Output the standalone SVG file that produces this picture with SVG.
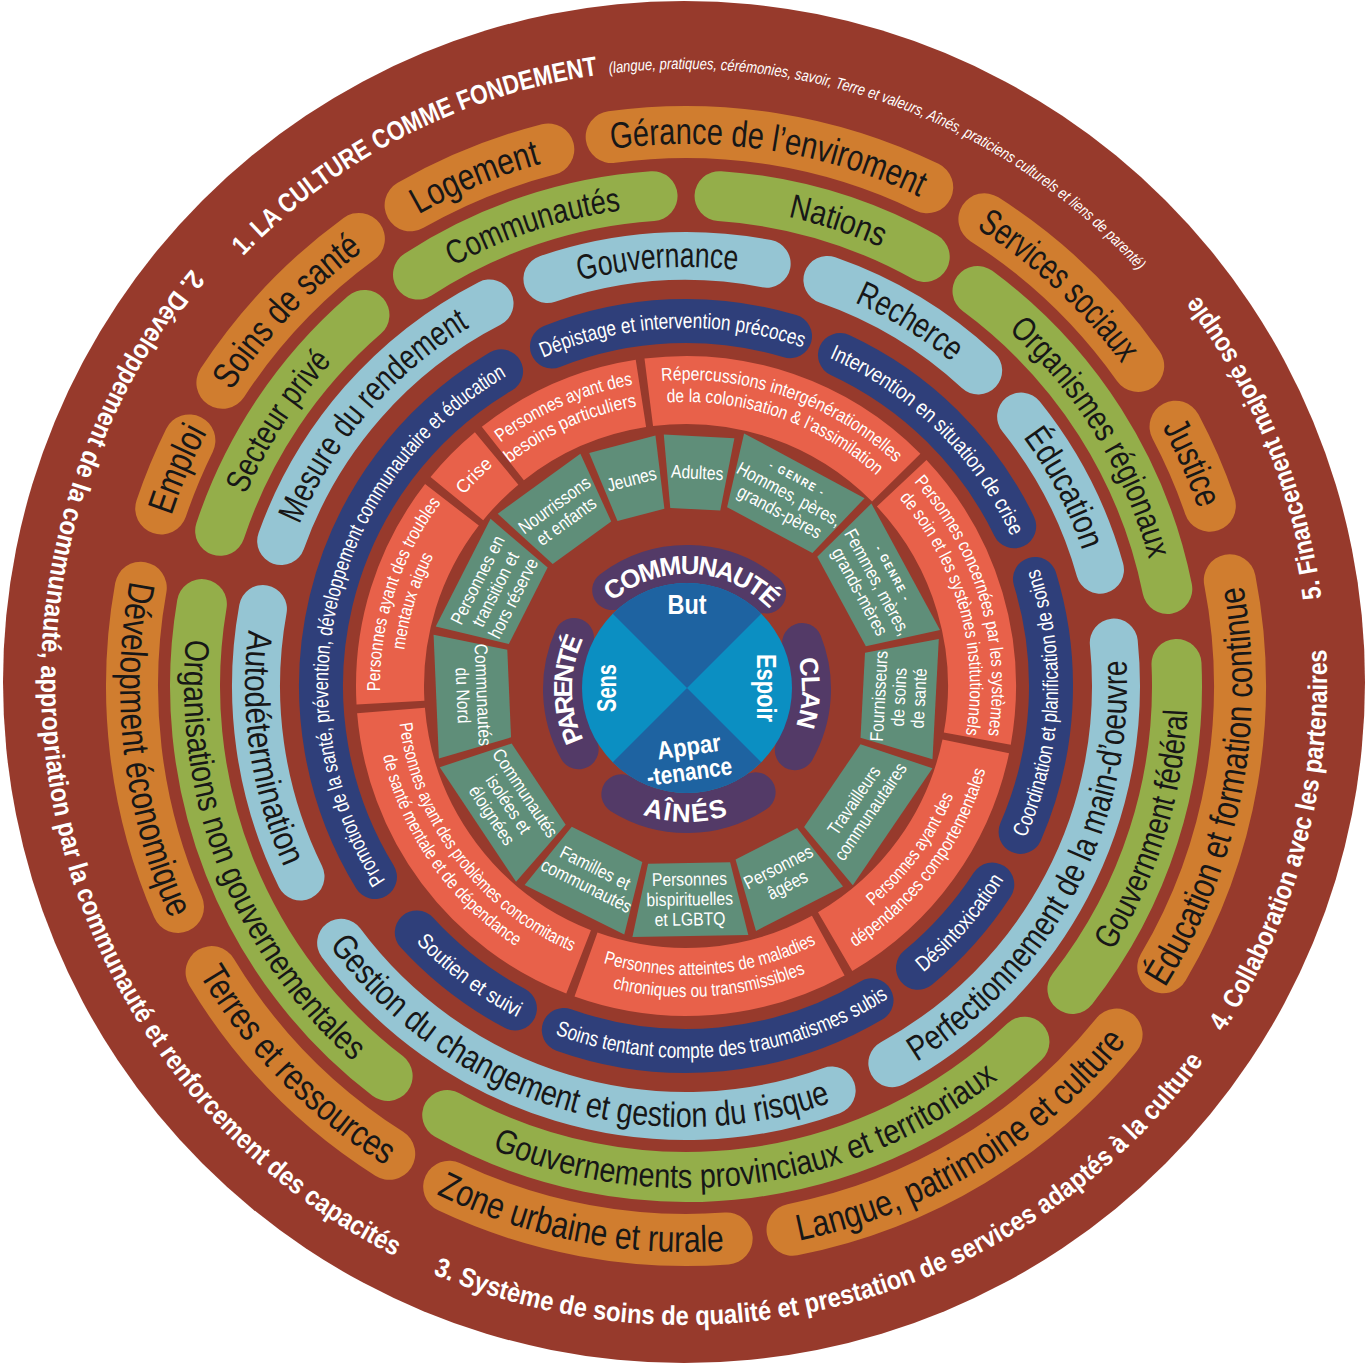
<svg xmlns="http://www.w3.org/2000/svg" xmlns:xlink="http://www.w3.org/1999/xlink" width="1368" height="1364" viewBox="0 0 1368 1364">
<defs>
<style>
text{font-family:"Liberation Sans Narrow","Liberation Sans",Arial,sans-serif}
.m{text-anchor:middle}.s{text-anchor:start}
.k{fill:#171717}.w{fill:#fff}.b{font-weight:bold}.i{font-style:italic}
.f34{font-size:37px}.f31{font-size:34px}.f32{font-size:35px}.f20{font-size:21.5px}.f17{font-size:18.5px}.f16{font-size:18.5px}.f26{font-size:26px}.f25{font-size:27px}.f15{font-size:16px}
.po{fill:none;stroke:#d07d2f;stroke-width:52;stroke-linecap:round}
.pg{fill:none;stroke:#94ae4a;stroke-width:50;stroke-linecap:round}
.pb{fill:none;stroke:#95c5d3;stroke-width:48;stroke-linecap:round}
.pn{fill:none;stroke:#2f3f7a;stroke-width:44;stroke-linecap:round}
.pc{fill:none;stroke:#e8614a;stroke-width:68}
.pp{fill:none;stroke:#533a67;stroke-width:40;stroke-linecap:round}
.sg{fill:#5f8e79}
.gl{font-size:11.5px;letter-spacing:2px;font-weight:bold}
</style>
<path id="cw543" d="M144,686 A542,542 0 1 1 1228,686 A542,542 0 1 1 144,686"/>
<path id="ccw565" d="M120,686 A566,566 0 1 0 1252,686 A566,566 0 1 0 120,686"/>
<path id="cw481" d="M206,686 A480,480 0 1 1 1166,686 A480,480 0 1 1 206,686"/>
<path id="ccw501" d="M184,686 A502,502 0 1 0 1188,686 A502,502 0 1 0 184,686"/>
<path id="cw420" d="M267,686 A419,419 0 1 1 1105,686 A419,419 0 1 1 267,686"/>
<path id="ccw440" d="M245,686 A441,441 0 1 0 1127,686 A441,441 0 1 0 245,686"/>
<path id="cw358" d="M328,686 A358,358 0 1 1 1044,686 A358,358 0 1 1 328,686"/>
<path id="ccw371" d="M314,686 A372,372 0 1 0 1058,686 A372,372 0 1 0 314,686"/>
<path id="cw306" d="M380,686 A306,306 0 1 1 992,686 A306,306 0 1 1 380,686"/>
<path id="cw284" d="M402,686 A284,284 0 1 1 970,686 A284,284 0 1 1 402,686"/>
<path id="cw293" d="M393,686 A293,293 0 1 1 979,686 A293,293 0 1 1 393,686"/>
<path id="ccw288" d="M397,686 A289,289 0 1 0 975,686 A289,289 0 1 0 397,686"/>
<path id="ccw310" d="M375,686 A311,311 0 1 0 997,686 A311,311 0 1 0 375,686"/>
<path id="cw115" d="M572,689 A115,115 0 1 1 802,689 A115,115 0 1 1 572,689"/>
<path id="ccw133" d="M554,689 A133,133 0 1 0 820,689 A133,133 0 1 0 554,689"/>
<path id="cw613" d="M71,682 A613,613 0 1 1 1297,682 A613,613 0 1 1 71,682"/>
<path id="ccw643" d="M41,682 A643,643 0 1 0 1327,682 A643,643 0 1 0 41,682"/>
</defs>

<circle id="background" cx="684" cy="682" r="681" fill="#973a2c"/>

<g id="outer-titles" class="w b">
<text class="s f25" transform="rotate(224 684 682)"><textPath href="#cw613" xlink:href="#cw613" startOffset="50%" textLength="406" lengthAdjust="spacingAndGlyphs">1. LA CULTURE COMME FONDEMENT</textPath></text>
<text class="s f15 i" transform="rotate(263 684 682)" style="font-weight:normal"><textPath href="#cw613" xlink:href="#cw613" startOffset="50%" textLength="587" lengthAdjust="spacingAndGlyphs">(langue, pratiques, cérémonies, savoir, Terre et valeurs, Aînés, praticiens culturels et liens de parenté)</textPath></text>
<text class="s f25" transform="rotate(220 684 682)"><textPath href="#ccw643" xlink:href="#ccw643" startOffset="50%" textLength="1159" lengthAdjust="spacingAndGlyphs">2. Développement de la communauté, appropriation par la communauté et renforcement des capacités</textPath></text>
<text class="s f25" transform="rotate(113 684 682)"><textPath href="#ccw643" xlink:href="#ccw643" startOffset="50%" textLength="863" lengthAdjust="spacingAndGlyphs">3. Système de soins de qualité et prestation de services adaptés à la culture</textPath></text>
<text class="s f25" transform="rotate(33 684 682)"><textPath href="#ccw643" xlink:href="#ccw643" startOffset="50%" textLength="403" lengthAdjust="spacingAndGlyphs">4. Collaboration avec les partenaires</textPath></text>
<text class="s f25" transform="rotate(352.5 684 682)"><textPath href="#ccw643" xlink:href="#ccw643" startOffset="50%" textLength="331" lengthAdjust="spacingAndGlyphs">5. Financement majoré souple</textPath></text>
</g>

<g id="ring-orange">
<g id="o-emploi"><circle class="po" cx="686" cy="686" r="554" stroke-dasharray="73.7 4000" transform="rotate(198.69 686 686)"/><text class="k f34 m" transform="rotate(203.1 686 686)"><textPath href="#cw543" xlink:href="#cw543" startOffset="50%" textLength="91" lengthAdjust="spacingAndGlyphs">Emploi</textPath></text></g>
<g id="o-soins-sante"><circle class="po" cx="686" cy="686" r="554" stroke-dasharray="199.4 4000" transform="rotate(213.19 686 686)"/><text class="k f34 m" transform="rotate(223.2 686 686)"><textPath href="#cw543" xlink:href="#cw543" startOffset="50%" textLength="193" lengthAdjust="spacingAndGlyphs">Soins de santé</textPath></text></g>
<g id="o-logement"><circle class="po" cx="686" cy="686" r="554" stroke-dasharray="149.1 4000" transform="rotate(240.19 686 686)"/><text class="k f34 m" transform="rotate(247.45 686 686)"><textPath href="#cw543" xlink:href="#cw543" startOffset="50%" textLength="133" lengthAdjust="spacingAndGlyphs">Logement</textPath></text></g>
<g id="o-gerance"><circle class="po" cx="686" cy="686" r="554" stroke-dasharray="324.1 4000" transform="rotate(262.29 686 686)"/><text class="k f34 m" transform="rotate(278.8 686 686)"><textPath href="#cw543" xlink:href="#cw543" startOffset="50%" textLength="316" lengthAdjust="spacingAndGlyphs">Gérance de l’enviroment</textPath></text></g>
<g id="o-services-sociaux"><circle class="po" cx="686" cy="686" r="554" stroke-dasharray="213.9 4000" transform="rotate(302.59 686 686)"/><text class="k f34 m" transform="rotate(312.95 686 686)"><textPath href="#cw543" xlink:href="#cw543" startOffset="50%" textLength="200" lengthAdjust="spacingAndGlyphs">Services sociaux</textPath></text></g>
<g id="o-justice"><circle class="po" cx="686" cy="686" r="554" stroke-dasharray="86.3 4000" transform="rotate(332.09 686 686)"/><text class="k f34 m" transform="rotate(336.2 686 686)"><textPath href="#cw543" xlink:href="#cw543" startOffset="50%" textLength="90" lengthAdjust="spacingAndGlyphs">Justice</textPath></text></g>
<g id="o-education-formation"><circle class="po" cx="686" cy="686" r="554" stroke-dasharray="401.5 4000" transform="rotate(348.99 686 686)"/><text class="k f34 m" transform="rotate(11 686 686)"><textPath href="#ccw565" xlink:href="#ccw565" startOffset="50%" textLength="419" lengthAdjust="spacingAndGlyphs">Éducation et formation continue</textPath></text></g>
<g id="o-langue"><circle class="po" cx="686" cy="686" r="554" stroke-dasharray="386 4000" transform="rotate(38.99 686 686)"/><text class="k f34 m" transform="rotate(58.7 686 686)"><textPath href="#ccw565" xlink:href="#ccw565" startOffset="50%" textLength="391" lengthAdjust="spacingAndGlyphs">Langue, patrimoine et culture</textPath></text></g>
<g id="o-zone"><circle class="po" cx="686" cy="686" r="554" stroke-dasharray="285.4 4000" transform="rotate(85.79 686 686)"/><text class="k f34 m" transform="rotate(101.15 686 686)"><textPath href="#ccw565" xlink:href="#ccw565" startOffset="50%" textLength="297" lengthAdjust="spacingAndGlyphs">Zone urbaine et rurale</textPath></text></g>
<g id="o-terres"><circle class="po" cx="686" cy="686" r="554" stroke-dasharray="256.4 4000" transform="rotate(122.39 686 686)"/><text class="k f34 m" transform="rotate(135.7 686 686)"><textPath href="#ccw565" xlink:href="#ccw565" startOffset="50%" textLength="269" lengthAdjust="spacingAndGlyphs">Terres et ressources</textPath></text></g>
<g id="o-developpement"><circle class="po" cx="686" cy="686" r="554" stroke-dasharray="326.1 4000" transform="rotate(156.49 686 686)"/><text class="k f34 m" transform="rotate(173.2 686 686)"><textPath href="#ccw565" xlink:href="#ccw565" startOffset="50%" textLength="346" lengthAdjust="spacingAndGlyphs">Dévelopment économique</textPath></text></g>
</g>

<g id="ring-green">
<g id="g-secteur"><circle class="pg" cx="686" cy="686" r="491" stroke-dasharray="262.8 4000" transform="rotate(198.42 686 686)"/><text class="k f31 m" transform="rotate(213 686 686)"><textPath href="#cw481" xlink:href="#cw481" startOffset="50%" textLength="159" lengthAdjust="spacingAndGlyphs">Secteur privé</textPath></text></g>
<g id="g-communautes"><circle class="pg" cx="686" cy="686" r="491" stroke-dasharray="250 4000" transform="rotate(236.92 686 686)"/><text class="k f31 m" transform="rotate(251.6 686 686)"><textPath href="#cw481" xlink:href="#cw481" startOffset="50%" textLength="178" lengthAdjust="spacingAndGlyphs">Communautés</textPath></text></g>
<g id="g-nations"><circle class="pg" cx="686" cy="686" r="491" stroke-dasharray="215.7 4000" transform="rotate(273.92 686 686)"/><text class="k f31 m" transform="rotate(288.1 686 686)"><textPath href="#cw481" xlink:href="#cw481" startOffset="50%" textLength="98" lengthAdjust="spacingAndGlyphs">Nations</textPath></text></g>
<g id="g-organismes"><circle class="pg" cx="686" cy="686" r="491" stroke-dasharray="361.4 4000" transform="rotate(306.42 686 686)"/><text class="k f31 m" transform="rotate(328.45 686 686)"><textPath href="#cw481" xlink:href="#cw481" startOffset="50%" textLength="272" lengthAdjust="spacingAndGlyphs">Organismes régionaux</textPath></text></g>
<g id="g-federal"><circle class="pg" cx="686" cy="686" r="491" stroke-dasharray="348.5 4000" transform="rotate(357.42 686 686)"/><text class="k f31 m" transform="rotate(17.3 686 686)"><textPath href="#ccw501" xlink:href="#ccw501" startOffset="50%" textLength="255" lengthAdjust="spacingAndGlyphs">Gouvernment fédéral</textPath></text></g>
<g id="g-provinciaux"><circle class="pg" cx="686" cy="686" r="491" stroke-dasharray="622.7 4000" transform="rotate(46.42 686 686)"/><text class="k f31 m" transform="rotate(82.15 686 686)"><textPath href="#ccw501" xlink:href="#ccw501" startOffset="50%" textLength="536" lengthAdjust="spacingAndGlyphs">Gouvernements provinciaux et territoriaux</textPath></text></g>
<g id="g-ong"><circle class="pg" cx="686" cy="686" r="491" stroke-dasharray="532.8 4000" transform="rotate(127.42 686 686)"/><text class="k f31 m" transform="rotate(158.45 686 686)"><textPath href="#ccw501" xlink:href="#ccw501" startOffset="50%" textLength="471" lengthAdjust="spacingAndGlyphs">Organisations non gouvernementales</textPath></text></g>
</g>

<g id="ring-lightblue">
<g id="b-mesure"><circle class="pb" cx="686" cy="686" r="430" stroke-dasharray="323.5 4000" transform="rotate(199.7 686 686)"/><text class="k f32 m" transform="rotate(220.8 686 686)"><textPath href="#cw420" xlink:href="#cw420" startOffset="50%" textLength="265" lengthAdjust="spacingAndGlyphs">Mesure du rendement</textPath></text></g>
<g id="b-gouvernance"><circle class="pb" cx="686" cy="686" r="430" stroke-dasharray="222.2 4000" transform="rotate(251.2 686 686)"/><text class="k f32 m" transform="rotate(266.15 686 686)"><textPath href="#cw420" xlink:href="#cw420" startOffset="50%" textLength="159" lengthAdjust="spacingAndGlyphs">Gouvernance</textPath></text></g>
<g id="b-recherce"><circle class="pb" cx="686" cy="686" r="430" stroke-dasharray="177.1 4000" transform="rotate(289.2 686 686)"/><text class="k f32 m" transform="rotate(301.55 686 686)"><textPath href="#cw420" xlink:href="#cw420" startOffset="50%" textLength="115" lengthAdjust="spacingAndGlyphs">Recherce</textPath></text></g>
<g id="b-education"><circle class="pb" cx="686" cy="686" r="430" stroke-dasharray="173.4 4000" transform="rotate(321.2 686 686)"/><text class="k f32 m" transform="rotate(332.35 686 686)"><textPath href="#cw420" xlink:href="#cw420" startOffset="50%" textLength="129" lengthAdjust="spacingAndGlyphs">Éducation</textPath></text></g>
<g id="b-perfectionnement"><circle class="pb" cx="686" cy="686" r="430" stroke-dasharray="503.6 4000" transform="rotate(354.2 686 686)"/><text class="k f32 m" transform="rotate(27.55 686 686)"><textPath href="#ccw440" xlink:href="#ccw440" startOffset="50%" textLength="476" lengthAdjust="spacingAndGlyphs">Perfectionnement de la main-d’oeuvre</textPath></text></g>
<g id="b-gestion"><circle class="pb" cx="686" cy="686" r="430" stroke-dasharray="548.6 4000" transform="rotate(70.2 686 686)"/><text class="k f32 m" transform="rotate(107.4 686 686)"><textPath href="#ccw440" xlink:href="#ccw440" startOffset="50%" textLength="563" lengthAdjust="spacingAndGlyphs">Gestion du changement et gestion du risque</textPath></text></g>
<g id="b-autodetermination"><circle class="pb" cx="686" cy="686" r="430" stroke-dasharray="274.7 4000" transform="rotate(153.7 686 686)"/><text class="k f32 m" transform="rotate(171.5 686 686)"><textPath href="#ccw440" xlink:href="#ccw440" startOffset="50%" textLength="243" lengthAdjust="spacingAndGlyphs">Autodétermination</textPath></text></g>
</g>

<g id="ring-navy">
<g id="n-promotion"><circle class="pn" cx="686" cy="686" r="365" stroke-dasharray="580.3 4000" transform="rotate(148.45 686 686)"/><text class="w f20 m" transform="rotate(193.5 686 686)"><textPath href="#cw358" xlink:href="#cw358" startOffset="50%" textLength="580" lengthAdjust="spacingAndGlyphs">Promotion de la santé, prévention, développement communautaire et éducation</textPath></text></g>
<g id="n-depistage"><circle class="pn" cx="686" cy="686" r="365" stroke-dasharray="242.7 4000" transform="rotate(248.45 686 686)"/><text class="w f20 m" transform="rotate(267.75 686 686)"><textPath href="#cw358" xlink:href="#cw358" startOffset="50%" textLength="266" lengthAdjust="spacingAndGlyphs">Dépistage et intervention précoces</textPath></text></g>
<g id="n-intervention"><circle class="pn" cx="686" cy="686" r="365" stroke-dasharray="249 4000" transform="rotate(294.95 686 686)"/><text class="w f20 m" transform="rotate(314.45 686 686)"><textPath href="#cw358" xlink:href="#cw358" startOffset="50%" textLength="261" lengthAdjust="spacingAndGlyphs">Intervention en situation de crise</textPath></text></g>
<g id="n-coordination"><circle class="pn" cx="686" cy="686" r="365" stroke-dasharray="258.6 4000" transform="rotate(342.95 686 686)"/><text class="w f20 m" transform="rotate(2.85 686 686)"><textPath href="#ccw371" xlink:href="#ccw371" startOffset="50%" textLength="276" lengthAdjust="spacingAndGlyphs">Coordination et planification de soins</textPath></text></g>
<g id="n-desintoxication"><circle class="pn" cx="686" cy="686" r="365" stroke-dasharray="112.1 4000" transform="rotate(32.95 686 686)"/><text class="w f20 m" transform="rotate(40.85 686 686)"><textPath href="#ccw371" xlink:href="#ccw371" startOffset="50%" textLength="124" lengthAdjust="spacingAndGlyphs">Désintoxication</textPath></text></g>
<g id="n-soins-trauma"><circle class="pn" cx="686" cy="686" r="365" stroke-dasharray="319.1 4000" transform="rotate(59.45 686 686)"/><text class="w f20 m" transform="rotate(83.8 686 686)"><textPath href="#ccw371" xlink:href="#ccw371" startOffset="50%" textLength="348" lengthAdjust="spacingAndGlyphs">Soins tentant compte des traumatismes subis</textPath></text></g>
<g id="n-soutien"><circle class="pn" cx="686" cy="686" r="365" stroke-dasharray="124.8 4000" transform="rotate(117.95 686 686)"/><text class="w f20 m" transform="rotate(126.75 686 686)"><textPath href="#ccw371" xlink:href="#ccw371" startOffset="50%" textLength="127" lengthAdjust="spacingAndGlyphs">Soutien et suivi</textPath></text></g>
</g>

<g id="ring-coral">
<g id="c-troubles"><circle class="pc" cx="686" cy="686" r="296" stroke-dasharray="211.6 4000" transform="rotate(176.774 686 686)"/>
<text class="w f17 m" transform="rotate(197.9 686 686)"><textPath href="#cw306" xlink:href="#cw306" startOffset="50%" textLength="202" lengthAdjust="spacingAndGlyphs">Personnes ayant des troubles</textPath></text>
<text class="w f17 m" transform="rotate(197.25 686 686)"><textPath href="#cw284" xlink:href="#cw284" startOffset="50%" textLength="99" lengthAdjust="spacingAndGlyphs">mentaux aigus</textPath></text></g>
<g id="c-crise"><circle class="pc" cx="686" cy="686" r="296" stroke-dasharray="56.6 4000" transform="rotate(219.274 686 686)"/>
<text class="w f17 m" transform="rotate(224.75 686 686)"><textPath href="#cw293" xlink:href="#cw293" startOffset="50%" textLength="42" lengthAdjust="spacingAndGlyphs">Crise</textPath></text></g>
<g id="c-besoins"><circle class="pc" cx="686" cy="686" r="296" stroke-dasharray="152.2 4000" transform="rotate(231.774 686 686)"/>
<text class="w f17 m" transform="rotate(246.35 686 686)"><textPath href="#cw306" xlink:href="#cw306" startOffset="50%" textLength="146" lengthAdjust="spacingAndGlyphs">Personnes ayant des</textPath></text>
<text class="w f17 m" transform="rotate(245.85 686 686)"><textPath href="#cw284" xlink:href="#cw284" startOffset="50%" textLength="141" lengthAdjust="spacingAndGlyphs">besoins particuliers</textPath></text></g>
<g id="c-repercussions"><circle class="pc" cx="686" cy="686" r="296" stroke-dasharray="271 4000" transform="rotate(262.774 686 686)"/>
<text class="w f17 m" transform="rotate(289.3 686 686)"><textPath href="#cw306" xlink:href="#cw306" startOffset="50%" textLength="255" lengthAdjust="spacingAndGlyphs">Répercussions intergénérationnelles</textPath></text>
<text class="w f17 m" transform="rotate(289.15 686 686)"><textPath href="#cw284" xlink:href="#cw284" startOffset="50%" textLength="228" lengthAdjust="spacingAndGlyphs">de la colonisation &amp; l’assimilation</textPath></text></g>
<g id="c-systemes"><circle class="pc" cx="686" cy="686" r="296" stroke-dasharray="276.1 4000" transform="rotate(316.774 686 686)"/>
<text class="w f17 m" transform="rotate(343.7 686 686)"><textPath href="#cw306" xlink:href="#cw306" startOffset="50%" textLength="273" lengthAdjust="spacingAndGlyphs">Personnes concernées par les systèmes</textPath></text>
<text class="w f17 m" transform="rotate(344.25 686 686)"><textPath href="#cw284" xlink:href="#cw284" startOffset="50%" textLength="254" lengthAdjust="spacingAndGlyphs">de soin et les systèmes institutionnels</textPath></text></g>
<g id="c-dependances"><circle class="pc" cx="686" cy="686" r="296" stroke-dasharray="247.7 4000" transform="rotate(11.774 686 686)"/>
<text class="w f17 m" transform="rotate(36 686 686)"><textPath href="#ccw288" xlink:href="#ccw288" startOffset="50%" textLength="138" lengthAdjust="spacingAndGlyphs">Personnes ayant des</textPath></text>
<text class="w f17 m" transform="rotate(36.4 686 686)"><textPath href="#ccw310" xlink:href="#ccw310" startOffset="50%" textLength="225" lengthAdjust="spacingAndGlyphs">dépendances comportementales</textPath></text></g>
<g id="c-maladies"><circle class="pc" cx="686" cy="686" r="296" stroke-dasharray="250.3 4000" transform="rotate(61.274 686 686)"/>
<text class="w f17 m" transform="rotate(84.9 686 686)"><textPath href="#ccw288" xlink:href="#ccw288" startOffset="50%" textLength="219" lengthAdjust="spacingAndGlyphs">Personnes atteintes de maladies</textPath></text>
<text class="w f17 m" transform="rotate(85.55 686 686)"><textPath href="#ccw310" xlink:href="#ccw310" startOffset="50%" textLength="197" lengthAdjust="spacingAndGlyphs">chroniques ou transmissibles</textPath></text></g>
<g id="c-concomitants"><circle class="pc" cx="686" cy="686" r="296" stroke-dasharray="330.4 4000" transform="rotate(111.274 686 686)"/>
<text class="w f17 m" transform="rotate(142.9 686 686)"><textPath href="#ccw288" xlink:href="#ccw288" startOffset="50%" textLength="299" lengthAdjust="spacingAndGlyphs">Personnes ayant des problèmes concomitants</textPath></text>
<text class="w f17 m" transform="rotate(145.05 686 686)"><textPath href="#ccw310" xlink:href="#ccw310" startOffset="50%" textLength="238" lengthAdjust="spacingAndGlyphs">de santé mentale et de dépendance</textPath></text></g>
</g>

<g id="ring-teal">
<g id="t-transition" transform="rotate(-153.05 686 686)"><polygon class="sg" points="936,625.52 936,746.48 863,728.82 863,643.18"/><text class="w f16 m" transform="rotate(90 899.5 686) translate(899.5 686) scale(0.85 1) translate(-899.5 -686)"><tspan x="899.5" y="672">Personnes en</tspan><tspan x="899.5" y="692">transition et</tspan><tspan x="899.5" y="712">hors réserve</tspan></text></g>
<g id="t-nourrissons" transform="rotate(-126 686 686)"><polygon class="sg" points="936,634.92 936,737.08 863,722.16 863,649.84"/><text class="w f16 m" transform="rotate(90 899.5 686) translate(899.5 686) scale(0.85 1) translate(-899.5 -686)"><tspan x="899.5" y="682">Nourrissons</tspan><tspan x="899.5" y="702">et enfants</tspan></text></g>
<g id="t-jeunes" transform="rotate(-104.75 686 686)"><polygon class="sg" points="936,651.75 936,720.25 863,710.25 863,661.75"/><text class="w f16 m" transform="rotate(90 899.5 686) translate(899.5 686) scale(0.85 1) translate(-899.5 -686)"><tspan x="899.5" y="692">Jeunes</tspan></text></g>
<g id="t-adultes" transform="rotate(-87 686 686)"><polygon class="sg" points="936,650.65 936,721.35 863,711.03 863,660.97"/><text class="w f16 m" transform="rotate(90 899.5 686) translate(899.5 686) scale(0.85 1) translate(-899.5 -686)"><tspan x="899.5" y="692">Adultes</tspan></text></g>
<g id="t-hommes" transform="rotate(-61.75 686 686)"><polygon class="sg" points="936,617.6 936,754.4 863,734.43 863,637.57"/><text class="w f16 m" transform="rotate(90 899.5 686) translate(899.5 686) scale(0.85 1) translate(-899.5 -686)"><tspan class="gl" x="899.5" y="668">- GENRE -</tspan><tspan x="899.5" y="688">Hommes, pères,</tspan><tspan x="899.5" y="708">grands-pères</tspan></text></g>
<g id="t-femmes" transform="rotate(-28.5 686 686)"><polygon class="sg" points="936,614.07 936,757.93 863,736.92 863,635.08"/><text class="w f16 m" transform="rotate(90 899.5 686) translate(899.5 686) scale(0.85 1) translate(-899.5 -686)"><tspan class="gl" x="899.5" y="668">- GENRE -</tspan><tspan x="899.5" y="688">Femmes, mères,</tspan><tspan x="899.5" y="708">grands-mères</tspan></text></g>
<g id="t-fournisseurs" transform="rotate(3 686 686)"><polygon class="sg" points="936,625.75 936,746.25 863,728.66 863,643.34"/><text class="w f16 m" transform="rotate(-90 899.5 686) translate(899.5 686) scale(0.85 1) translate(-899.5 -686)"><tspan x="899.5" y="672">Fournisseurs</tspan><tspan x="899.5" y="692">de soins</tspan><tspan x="899.5" y="712">de santé</tspan></text></g>
<g id="t-travailleurs" transform="rotate(34.25 686 686)"><polygon class="sg" points="936,615.25 936,756.75 863,736.09 863,635.91"/><text class="w f16 m" transform="rotate(-90 899.5 686) translate(899.5 686) scale(0.83 1) translate(-899.5 -686)"><tspan x="899.5" y="682">Travailleurs</tspan><tspan x="899.5" y="702">communautaires</tspan></text></g>
<g id="t-agees" transform="rotate(63 686 686)"><polygon class="sg" points="936,637.17 936,734.83 863,720.57 863,651.43"/><text class="w f16 m" transform="rotate(-90 899.5 686) translate(899.5 686) scale(0.85 1) translate(-899.5 -686)"><tspan x="899.5" y="682">Personnes</tspan><tspan x="899.5" y="702">âgées</tspan></text></g>
<g id="t-bispirituelles" transform="rotate(89 686 686)"><polygon class="sg" points="936,628.05 936,743.95 863,727.03 863,644.97"/><text class="w f16 m" transform="rotate(-90 899.5 686) translate(899.5 686) scale(0.85 1) translate(-899.5 -686)"><tspan x="899.5" y="672">Personnes</tspan><tspan x="899.5" y="692">bispirituelles</tspan><tspan x="899.5" y="712">et LGBTQ</tspan></text></g>
<g id="t-familles" transform="rotate(116.5 686 686)"><polygon class="sg" points="936,630.35 936,741.65 863,725.4 863,646.6"/><text class="w f16 m" transform="rotate(-90 899.5 686) translate(899.5 686) scale(0.85 1) translate(-899.5 -686)"><tspan x="899.5" y="682">Familles et</tspan><tspan x="899.5" y="702">communautés</tspan></text></g>
<g id="t-isolees" transform="rotate(146.35 686 686)"><polygon class="sg" points="936,617.15 936,754.85 863,734.75 863,637.25"/><text class="w f16 m" transform="rotate(-90 899.5 686) translate(899.5 686) scale(0.85 1) translate(-899.5 -686)"><tspan x="899.5" y="672">Communautés</tspan><tspan x="899.5" y="692">isolées et</tspan><tspan x="899.5" y="712">éloignées</tspan></text></g>
<g id="t-nord" transform="rotate(177.55 686 686)"><polygon class="sg" points="936,624.12 936,747.88 863,729.81 863,642.19"/><text class="w f16 m" transform="rotate(-90 899.5 686) translate(899.5 686) scale(0.85 1) translate(-899.5 -686)"><tspan x="899.5" y="682">Communautés</tspan><tspan x="899.5" y="702">du Nord</tspan></text></g>
</g>

<g id="ring-purple">
<g id="p-communaute"><circle class="pp" cx="687" cy="689" r="124" stroke-dasharray="166 4000" transform="rotate(232.9 687 689)"/><text class="w b f26 m" transform="rotate(272.7 687 689)"><textPath href="#cw115" xlink:href="#cw115" startOffset="50%" textLength="174" lengthAdjust="spacing">COMMUNAUTÉ</textPath></text></g>
<g id="p-clan"><circle class="pp" cx="687" cy="689" r="124" stroke-dasharray="111.2 4000" transform="rotate(338.2 687 689)"/><text class="w b f26 m" transform="rotate(1.85 687 689)"><textPath href="#cw115" xlink:href="#cw115" startOffset="50%" textLength="68" lengthAdjust="spacing">CLAN</textPath></text></g>
<g id="p-aines"><circle class="pp" cx="687" cy="689" r="124" stroke-dasharray="141.8 4000" transform="rotate(56.4 687 689)"/><text class="w b f26 m" transform="rotate(90.8 687 689)"><textPath href="#ccw133" xlink:href="#ccw133" startOffset="50%" textLength="87" lengthAdjust="spacing">AÎNÉS</textPath></text></g>
<g id="p-parente"><circle class="pp" cx="687" cy="689" r="124" stroke-dasharray="115.6 4000" transform="rotate(150.9 687 689)"/><text class="w b f26 m" transform="rotate(179.8 687 689)"><textPath href="#cw115" xlink:href="#cw115" startOffset="50%" textLength="104" lengthAdjust="spacing">PARENTÉ</textPath></text></g>
</g>

<g id="center">
<circle cx="687" cy="688" r="105" fill="#0b8fc2"/>
<path id="q-but" d="M687,688 L612.75,613.75 A105,105 0 0 1 761.25,613.75 Z" fill="#1e63a1"/>
<path id="q-appartenance" d="M687,688 L761.25,762.25 A105,105 0 0 1 612.75,762.25 Z" fill="#1e63a1"/>
<text class="w b m" font-size="27" x="687" y="614" textLength="39" lengthAdjust="spacingAndGlyphs">But</text>
<text class="w b m" font-size="27" x="766" y="697" transform="rotate(90 766 688)" textLength="68" lengthAdjust="spacingAndGlyphs">Espoir</text>
<text class="w b m" font-size="27" x="607" y="697" transform="rotate(-90 607 688)" textLength="48" lengthAdjust="spacingAndGlyphs">Sens</text>
<g transform="rotate(-8 690 762)"><text class="w b m" font-size="25" x="691" y="755" textLength="64" lengthAdjust="spacingAndGlyphs">Appar</text><text class="w b m" font-size="25" x="688" y="780" textLength="86" lengthAdjust="spacingAndGlyphs">-tenance</text></g>
</g>
</svg>
